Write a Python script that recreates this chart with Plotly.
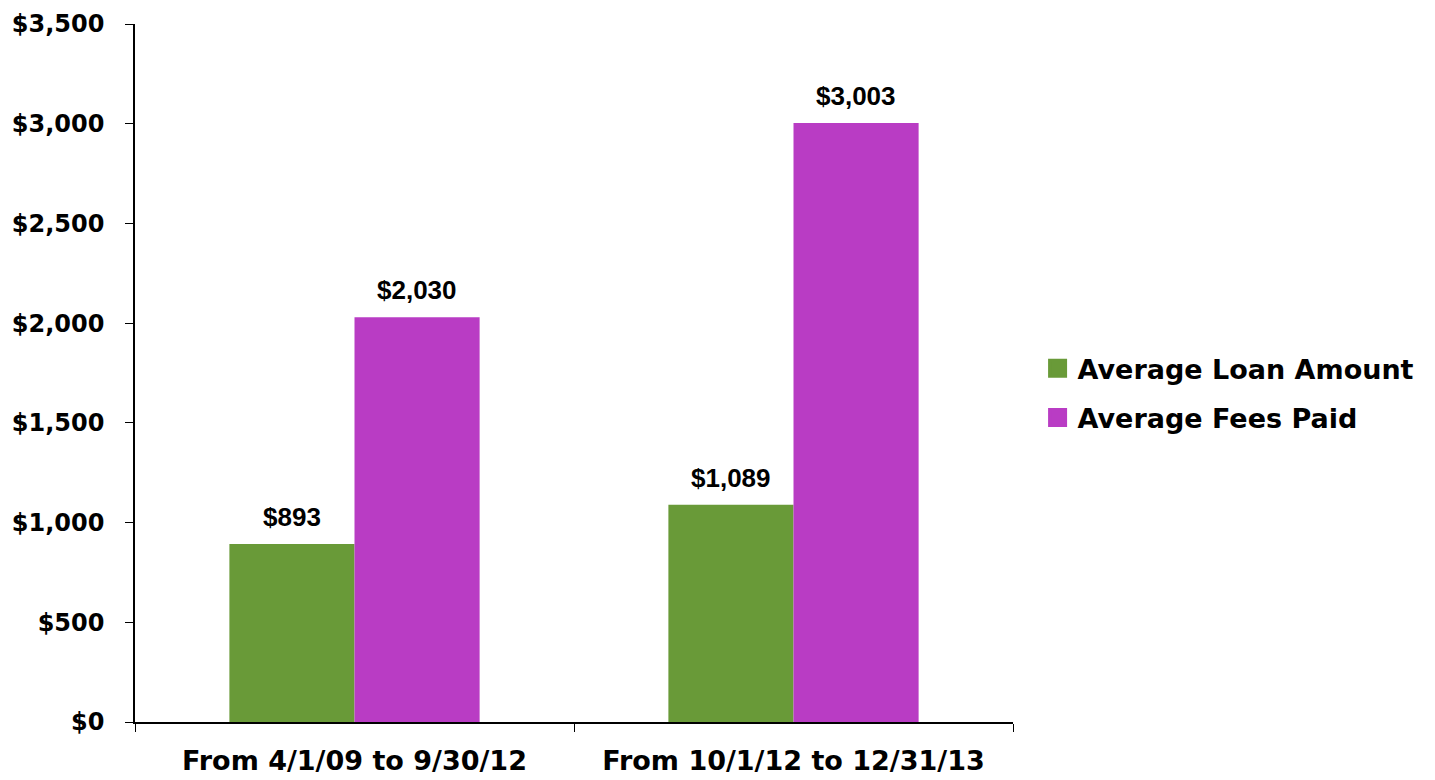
import plotly.graph_objects as go

#--------------------- Data
periods = ['From 4/1/09 to 9/30/12', 'From 10/1/12 to 12/31/13']
loan_amount = [893, 1089]
fees_paid = [2030, 3003]
series_names = ['Average Loan Amount', 'Average Fees Paid']
y_ticks = [0, 500, 1000, 1500, 2000, 2500, 3000, 3500]
y_tick_labels = ['$0', '$500', '$1,000', '$1,500', '$2,000', '$2,500', '$3,000', '$3,500']

#--------------------- Figure
# page body has an 8px margin, so the figure is 8px smaller each way
W, H = 1427, 772
M = dict(l=127, r=422, t=16, b=58)
colors = ['#699A38', '#B93CC4']
bargap = 0.43
plot_w = W - M['l'] - M['r']
bar_px = plot_w / len(periods) * (1 - bargap) / 2

fig = go.Figure()
for vals, name, col in zip([loan_amount, fees_paid], series_names, colors):
    fig.add_trace(go.Bar(x=periods, y=vals, name=name, marker_color=col,
                         marker_line_width=0, showlegend=False))
    # legend entry with a bigger square
    fig.add_trace(go.Scatter(x=[None], y=[None], mode='markers', name=name,
                             legendgroup=name,
                             marker=dict(symbol='square', size=16, color=col,
                                         line=dict(color=col, width=3))))

# value labels above the bars
for vals, sign in zip([loan_amount, fees_paid], [-1, 1]):
    for p, v in zip(periods, vals):
        fig.add_annotation(x=p, y=v, text='<b>$' + format(v, ',') + '</b>',
                           showarrow=False, xshift=sign * bar_px / 2, yshift=10,
                           yanchor='bottom',
                           font=dict(family='Liberation Sans, Arial', size=26, color='black'))

fig.update_layout(
    width=W, height=H,
    margin=M,
    plot_bgcolor='white', paper_bgcolor='white',
    barmode='group', bargap=bargap, bargroupgap=0,
    font=dict(family='DejaVu Sans', size=24, color='black'),
    legend=dict(x=1.028, y=0.471, xanchor='left', yanchor='middle',
                font=dict(size=27, weight='bold'), itemwidth=30,
                tracegroupgap=11, itemsizing='trace'),
)
fig.update_xaxes(showline=True, linecolor='black', linewidth=1.5,
                 ticks='outside', ticklen=8, tickcolor='black', tickson='boundaries',
                 tickfont=dict(size=27, weight='bold'), showgrid=False,
                 automargin=False, ticklabelstandoff=14)
fig.update_yaxes(range=[0, 3500], tickvals=y_ticks, ticktext=y_tick_labels,
                 showline=True, linecolor='black', linewidth=1.5,
                 ticks='outside', ticklen=8, tickcolor='black',
                 tickfont=dict(size=24, weight='bold'), showgrid=False,
                 zeroline=False, ticklabelstandoff=16, automargin=False)

fig.write_html('out.html')
